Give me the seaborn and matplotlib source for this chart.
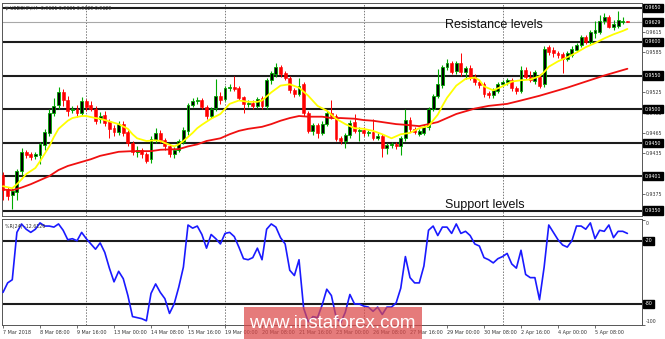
import numpy as np
import pandas as pd
import matplotlib
matplotlib.use("Agg")
import matplotlib.pyplot as plt
import seaborn as sns
from matplotlib.transforms import blended_transform_factory
from matplotlib.patches import Rectangle

# ---------------- data ----------------
open_ = [0.9403,0.9382,0.9373,0.9377,0.9408,0.9437,0.9434,0.9431,0.9432,0.9447,
         0.9465,0.9495,0.9507,0.9526,0.9513,0.9499,0.9501,0.9495,0.9512,0.9506,
         0.9500,0.9485,0.9492,0.9482,0.9472,0.9466,0.9478,0.9467,0.9450,0.9436,
         0.9440,0.9433,0.9426,0.9455,0.9465,0.9455,0.9446,0.9434,0.9440,0.9452,
         0.9468,0.9507,0.9512,0.9514,0.9504,0.9490,0.9502,0.9520,0.9515,0.9531,
         0.9533,0.9532,0.9518,0.9508,0.9510,0.9505,0.9516,0.9505,0.9543,0.9552,
         0.9562,0.9553,0.9547,0.9528,0.9523,0.9538,0.9495,0.9468,0.9477,0.9465,
         0.9478,0.9495,0.9490,0.9457,0.9453,0.9462,0.9481,0.9468,0.9470,0.9465,
         0.9466,0.9458,0.9461,0.9442,0.9447,0.9448,0.9445,0.9457,0.9484,0.9471,
         0.9464,0.9465,0.9473,0.9500,0.9520,0.9536,0.9562,0.9568,0.9556,0.9569,
         0.9555,0.9561,0.9548,0.9540,0.9537,0.9524,0.9521,0.9527,0.9538,0.9540,
         0.9543,0.9531,0.9527,0.9558,0.9548,0.9542,0.9548,0.9537,0.9592,0.9588,
         0.9583,0.9582,0.9575,0.9581,0.9588,0.9595,0.9607,0.9600,0.9613,0.9615,
         0.9630,0.9637,0.9622,0.9624,0.9629,0.9631]
high_ = [0.9407,0.9385,0.9383,0.9412,0.9442,0.9440,0.9437,0.9437,0.9452,0.9471,
         0.9500,0.9517,0.9533,0.9530,0.9520,0.9505,0.9506,0.9518,0.9515,0.9512,
         0.9505,0.9496,0.9498,0.9486,0.9476,0.9482,0.9482,0.9470,0.9453,0.9446,
         0.9443,0.9436,0.9460,0.9472,0.9470,0.9458,0.9448,0.9444,0.9456,0.9474,
         0.9510,0.9516,0.9518,0.9516,0.9507,0.9503,0.9545,0.9525,0.9535,0.9537,
         0.9550,0.9535,0.9520,0.9513,0.9514,0.9518,0.9520,0.9546,0.9556,0.9568,
         0.9565,0.9556,0.9550,0.9532,0.9546,0.9540,0.9498,0.9480,0.9480,0.9482,
         0.9498,0.9513,0.9493,0.9460,0.9465,0.9484,0.9493,0.9474,0.9473,0.9470,
         0.9486,0.9465,0.9463,0.9450,0.9452,0.9451,0.9460,0.9500,0.9488,0.9474,
         0.9471,0.9477,0.9503,0.9523,0.9560,0.9565,0.9575,0.9572,0.9572,0.9583,
         0.9564,0.9565,0.9552,0.9543,0.9540,0.9527,0.9531,0.9541,0.9544,0.9547,
         0.9546,0.9534,0.9564,0.9562,0.9556,0.9558,0.9552,0.9593,0.9595,0.9592,
         0.9586,0.9585,0.9587,0.9594,0.9598,0.9610,0.9610,0.9617,0.9630,0.9640,
         0.9642,0.9640,0.9632,0.9645,0.9636,0.9631]
low_ = [0.9366,0.9365,0.9352,0.9365,0.9403,0.9428,0.9425,0.9427,0.9419,0.9440,
        0.9460,0.9490,0.9500,0.9505,0.9490,0.9495,0.9488,0.9492,0.9498,0.9498,
        0.9478,0.9480,0.9475,0.9458,0.9460,0.9462,0.9460,0.9445,0.9432,0.9430,
        0.9428,0.9420,0.9420,0.9450,0.9450,0.9440,0.9430,0.9428,0.9436,0.9448,
        0.9462,0.9503,0.9508,0.9500,0.9485,0.9487,0.9498,0.9508,0.9512,0.9527,
        0.9527,0.9514,0.9495,0.9503,0.9500,0.9502,0.9500,0.9500,0.9538,0.9548,
        0.9548,0.9543,0.9524,0.9518,0.9520,0.9490,0.9465,0.9462,0.9457,0.9462,
        0.9475,0.9486,0.9453,0.9448,0.9443,0.9458,0.9465,0.9453,0.9460,0.9460,
        0.9455,0.9455,0.9429,0.9433,0.9443,0.9441,0.9432,0.9453,0.9467,0.9463,
        0.9460,0.9462,0.9470,0.9497,0.9516,0.9532,0.9558,0.9552,0.9552,0.9550,
        0.9545,0.9543,0.9536,0.9532,0.9518,0.9517,0.9517,0.9524,0.9534,0.9536,
        0.9527,0.9523,0.9524,0.9545,0.9540,0.9538,0.9532,0.9533,0.9581,0.9578,
        0.9576,0.9553,0.9571,0.9577,0.9585,0.9592,0.9596,0.9597,0.9605,0.9612,
        0.9626,0.9620,0.9617,0.9620,0.9626,0.9629]
close_ = [0.9380,0.9372,0.9379,0.9409,0.9436,0.9432,0.9430,0.9433,0.9448,0.9466,
          0.9494,0.9505,0.9526,0.9513,0.9497,0.9501,0.9495,0.9512,0.9504,0.9500,
          0.9483,0.9490,0.9480,0.9471,0.9466,0.9478,0.9465,0.9450,0.9437,0.9440,
          0.9433,0.9424,0.9456,0.9465,0.9455,0.9446,0.9434,0.9440,0.9453,0.9470,
          0.9507,0.9512,0.9514,0.9503,0.9490,0.9500,0.9520,0.9513,0.9531,0.9533,
          0.9530,0.9517,0.9508,0.9510,0.9505,0.9515,0.9505,0.9543,0.9553,0.9562,
          0.9552,0.9547,0.9528,0.9523,0.9535,0.9495,0.9468,0.9477,0.9465,0.9478,
          0.9495,0.9490,0.9456,0.9453,0.9462,0.9480,0.9468,0.9470,0.9465,0.9466,
          0.9458,0.9461,0.9442,0.9447,0.9448,0.9445,0.9457,0.9484,0.9471,0.9467,
          0.9468,0.9473,0.9500,0.9520,0.9538,0.9562,0.9568,0.9555,0.9568,0.9555,
          0.9561,0.9547,0.9540,0.9536,0.9522,0.9521,0.9528,0.9538,0.9540,0.9543,
          0.9531,0.9527,0.9558,0.9548,0.9543,0.9555,0.9535,0.9590,0.9585,0.9583,
          0.9581,0.9575,0.9583,0.9590,0.9595,0.9607,0.9600,0.9614,0.9617,0.9630,
          0.9637,0.9622,0.9626,0.9632,0.9631,0.9629]

# fast moving average (yellow), read at sampled bars
ma_fast_bar = [0,2,3,4,5,7,8,10,11,12,14,15,17,18,20,21,22,24,25,27,
               28,29,31,33,34,35,37,38,39,40,41,42,43,45,47,49,51,53,55,56,
               58,60,62,64,66,68,70,72,74,76,78,80,82,84,86,88,90,92,94,95,
               96,98,100,102,103,104,106,107,108,110,112,114,116,117,118,120,122,124,126,128,
               130,132,134,135]
ma_fast = [0.9386,0.9383,0.9389,0.9396,0.9404,0.9413,0.9423,0.9445,0.9459,0.9471,
           0.9483,0.9487,0.9490,0.9490,0.9487,0.9486,0.9484,0.9480,0.9478,0.9471,
           0.9463,0.9457,0.9453,0.9454,0.9453,0.9450,0.9445,0.9448,0.9453,0.9459,
           0.9465,0.9472,0.9477,0.9486,0.9493,0.9508,0.9513,0.9511,0.9511,0.9513,
           0.9525,0.9535,0.9537,0.9532,0.9520,0.9505,0.9498,0.9486,0.9478,0.9472,
           0.9471,0.9468,0.9463,0.9457,0.9463,0.9465,0.9472,0.9475,0.9492,0.9505,
           0.9517,0.9535,0.9545,0.9547,0.9543,0.9534,0.9528,0.9531,0.9534,0.9541,
           0.9543,0.9544,0.9549,0.9555,0.9563,0.9571,0.9577,0.9584,0.9592,0.9598,
           0.9605,0.9611,0.9616,0.9619]

# slow moving average (red), read at sampled bars
ma_slow_bar = [0,2,4,6,8,10,12,14,17,19,21,23,25,28,32,34,38,40,42,44,
               47,49,51,53,56,58,60,62,64,66,69,71,73,76,78,80,83,85,87,90,
               92,94,95,98,102,105,109,112,116,119,122,126,130,135]
ma_slow = [0.9381,0.9380,0.9384,0.9389,0.9395,0.9401,0.9410,0.9416,0.9422,0.9426,
           0.9431,0.9434,0.9437,0.9438,0.9438,0.9440,0.9441,0.9445,0.9448,0.9453,
           0.9457,0.9463,0.9468,0.9471,0.9474,0.9478,0.9483,0.9487,0.9490,0.9489,
           0.9489,0.9487,0.9487,0.9486,0.9484,0.9483,0.9480,0.9478,0.9477,0.9475,
           0.9478,0.9481,0.9484,0.9493,0.9501,0.9505,0.9508,0.9513,0.9520,0.9526,
           0.9532,0.9541,0.9550,0.9560]

# Williams %R
wpr = [-69,-60,-57,-12,-4,-9,-12,-9,-3,-6,
       -6,-7,-4,-10,-19,-18,-20,-12,-18,-23,
       -28,-22,-31,-46,-59,-49,-56,-72,-92,-93,
       -94,-96,-70,-61,-69,-75,-89,-80,-64,-45,
       -5,-8,-6,-14,-27,-14,-18,-23,-13,-12,
       -16,-26,-37,-38,-36,-27,-38,-9,-4,-7,
       -17,-23,-48,-53,-38,-84,-97,-92,-93,-81,
       -66,-72,-92,-98,-88,-71,-80,-80,-82,-83,
       -87,-83,-90,-83,-83,-79,-65,-35,-55,-60,
       -60,-44,-10,-6,-15,-7,-7,-13,-4,-13,
       -11,-15,-23,-25,-36,-38,-41,-37,-35,-32,
       -42,-46,-29,-52,-55,-55,-76,-45,-5,-12,
       -19,-24,-26,-20,-6,-6,-9,-3,-18,-10,
       -11,-5,-17,-11,-11,-13]

level_prices = [0.9650, 0.9600, 0.9550, 0.9500, 0.9450, 0.9401, 0.9350]
level_labels = ["0.9650", "0.9600", "0.9550", "0.9500", "0.9450", "0.9401", "0.9350"]
bid_price = 0.9629
bid_label = "0.9629"
price_ticks = [0.9645, 0.9615, 0.9585, 0.9555, 0.9525, 0.9495, 0.9465, 0.9435, 0.9405, 0.9375, 0.9345]
price_tick_labels = ["0.9645", "0.9615", "0.9585", "", "0.9525", "0.9495", "0.9465",
                     "0.9435", "", "0.9375", "0.9345"]
wpr_levels = [-20, -80]
wpr_level_labels = ["-20", "-80"]
week_separators = [18, 48, 78, 108]
time_tick_bars = [0, 8, 16, 24, 32, 40, 48, 56, 64, 72, 80, 88, 96, 104, 112, 120, 128]
time_tick_labels = ["7 Mar 2018", "8 Mar 08:00", "9 Mar 16:00", "13 Mar 00:00", "14 Mar 08:00",
                    "15 Mar 16:00", "19 Mar 00:00", "20 Mar 08:00", "21 Mar 16:00", "23 Mar 00:00",
                    "26 Mar 08:00", "27 Mar 16:00", "29 Mar 00:00", "30 Mar 08:00", "2 Apr 16:00",
                    "4 Apr 00:00", "5 Apr 08:00"]

# ---------------- figure ----------------
sns.set_theme(style="white")
plt.rcParams['font.family'] = ['DejaVu Sans']

W, H = 665, 339
fig = plt.figure(figsize=(W / 100, H / 100), dpi=100)
fig.patch.set_facecolor("white")
ax = fig.add_axes([2 / W, 1 - 216 / H, 640 / W, 213 / H])
ax2 = fig.add_axes([2 / W, 1 - 325 / H, 640 / W, 106 / H], sharex=ax)

df = pd.DataFrame({"bar": np.arange(len(close_)), "open": open_, "high": high_,
                   "low": low_, "close": close_})
bull = df["close"] >= df["open"]
bull_c = "#00aa00"
bear_c = "#ff0000"

# wicks
top = np.maximum(df["high"], np.maximum(df["open"], df["close"]))
bot = np.minimum(df["low"], np.minimum(df["open"], df["close"]))
ax.vlines(df["bar"][bull], bot[bull], top[bull], colors=bull_c, linewidth=0.8, zorder=3)
ax.vlines(df["bar"][~bull], bot[~bull], top[~bull], colors=bear_c, linewidth=0.7, zorder=3)
# bodies
body_h = np.maximum((df["close"] - df["open"]).abs(), 0.00008)
body_b = np.minimum(df["open"], df["close"])
ax.bar(df["bar"][bull], body_h[bull], bottom=body_b[bull], width=0.62,
       color="#000000", edgecolor=bull_c, linewidth=0.6, zorder=4)
ax.bar(df["bar"][~bull], body_h[~bull], bottom=body_b[~bull], width=0.62,
       color=bear_c, edgecolor=bear_c, linewidth=0.4, zorder=4)

# moving averages
sns.lineplot(x=ma_slow_bar, y=ma_slow, ax=ax, color="#f01010", linewidth=1.3, legend=False, zorder=5)
sns.lineplot(x=ma_fast_bar, y=ma_fast, ax=ax, color="#ffff00", linewidth=1.3, legend=False, zorder=6)

# level lines
for p in level_prices:
    ax.axhline(p, color="#1c1c1c", linewidth=1.5, zorder=2)
ax.axhline(bid_price, color="#a8a8a8", linewidth=0.8, zorder=2)

# WPR
sns.lineplot(x=np.arange(len(wpr)), y=wpr, ax=ax2, color="#1a1aff", linewidth=1.2, legend=False, zorder=5)
for lv in wpr_levels:
    ax2.axhline(lv, color="#1c1c1c", linewidth=1.5, zorder=2)

for a in (ax, ax2):
    for b in week_separators:
        a.axvline(b, color="#7a7a7a", linewidth=0.7, linestyle=(0, (1.5, 1.5)), zorder=1)
    a.set_xlabel("")
    a.set_ylabel("")
    a.set_facecolor("white")
    for s in a.spines.values():
        s.set_color("#555555")
        s.set_linewidth(0.7)
    a.yaxis.tick_right()

ax.set_xlim(-0.22, 138.16)
ax.set_ylim(0.93419, 0.96574)
ax2.set_ylim(-99.5, 0.7)

# right price scale
ax.set_yticks(price_ticks)
ax.set_yticklabels(price_tick_labels)
ax.tick_params(axis="y", which="both", right=True, length=2, width=0.5, pad=1,
               labelsize=3.4, colors="#333333")
ax.tick_params(axis="x", bottom=False, labelbottom=False)

trans = blended_transform_factory(ax.transAxes, ax.transData)
box = dict(boxstyle="square,pad=0.35", fc="black", ec="black")
for p, lab in zip(level_prices, level_labels):
    ax.text(1.004, p, lab, transform=trans, ha="left", va="center", fontsize=3.4,
            color="white", bbox=box, clip_on=False, zorder=20)
ax.text(1.004, bid_price, bid_label, transform=trans, ha="left", va="center", fontsize=3.4,
        color="white", bbox=box, clip_on=False, zorder=20)

ax2.set_yticks([0, -100])
ax2.set_yticklabels(["", ""])
ax2.tick_params(axis="y", right=True, length=2, width=0.5, labelsize=3.4)
trans2 = blended_transform_factory(ax2.transAxes, ax2.transData)
ax2.text(1.006, -3.5, "0", transform=trans2, ha="left", va="center", fontsize=3.4,
         color="#333333", clip_on=False)
ax2.text(1.006, -96.5, "-100", transform=trans2, ha="left", va="center", fontsize=3.4,
         color="#333333", clip_on=False)
for lv, lab in zip(wpr_levels, wpr_level_labels):
    ax2.text(1.004, lv, lab, transform=trans2, ha="left", va="center", fontsize=3.4,
             color="white", bbox=box, clip_on=False, zorder=20)

# time axis
ax2.set_xticks(time_tick_bars)
ax2.set_xticklabels(time_tick_labels, ha="left")
ax2.tick_params(axis="x", bottom=True, length=2.5, width=0.5, pad=1.2,
                labelsize=3.5, colors="#333333")

# headers
ax.text(0.004, 0.988, "\u25bc USDCHF,H4  0.9631 0.9631 0.9629 0.9629", transform=ax.transAxes,
        ha="left", va="top", fontsize=3.4, color="#333333", zorder=20)
ax2.text(0.004, 0.955, "%R(24) -12.6126", transform=ax2.transAxes, ha="left", va="top",
         fontsize=3.4, color="#333333", zorder=20)

# annotations
ax.text(95.6, 0.9625, "Resistance levels", ha="left", va="center", fontsize=9,
        family="Liberation Sans", color="#111111", zorder=20)
ax.text(95.6, 0.9358, "Support levels", ha="left", va="center", fontsize=9,
        family="Liberation Sans", color="#111111", zorder=20)

# watermark
fig.patches.append(Rectangle((244 / W, 0), (422 - 244) / W, (339 - 307) / H,
                             transform=fig.transFigure, facecolor="#dc4848", alpha=0.72,
                             edgecolor="none", zorder=30))
fig.text(332 / W, 1 - 323 / H, "www.instaforex.com", ha="center", va="center",
         fontsize=13.5, color="white", family="Liberation Sans", zorder=31)

fig.savefig("out.png", dpi=100, facecolor="white")
